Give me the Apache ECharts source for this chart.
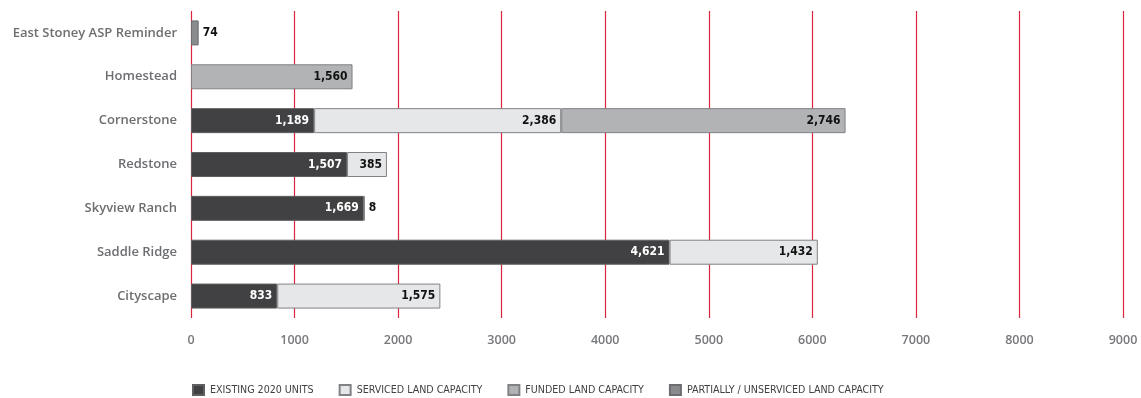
<!DOCTYPE html>
<html>
<head>
<meta charset="utf-8">
<script src="https://cdn.jsdelivr.net/npm/echarts@6/dist/echarts.min.js"></script>
<style>
  html, body { margin: 0; padding: 0; background: #fff; }
  #chart { width: 1141px; height: 398px; }
</style>
</head>
<body>
<div id="chart"></div>
<script>
// Communities, listed bottom-to-top as drawn on the category axis
const categories = ['Cityscape', 'Saddle Ridge', 'Skyview Ranch', 'Redstone', 'Cornerstone', 'Homestead', 'East Stoney ASP Reminder'];

// Units per community for each capacity type (null = none)
const existing2020 = [833, 4621, 1669, 1507, 1189, null, null];
const servicedLand = [1575, 1432, 8, 385, 2386, null, null];
const fundedLand = [null, null, null, null, 2746, 1560, null];
const unservicedLand = [null, null, null, null, null, null, 74];

const xTicks = { min: 0, max: 9000, step: 1000 };

const labelFont = '"DejaVu Sans Condensed", "Liberation Sans Narrow", sans-serif';

function barLabel(color) {
  return {
    show: true,
    position: 'insideRight',
    distance: 5,
    color: color,
    fontFamily: labelFont,
    fontWeight: 'bold',
    fontSize: 12,
    formatter: p => p.value == null ? '' : p.value.toLocaleString('en-US')
  };
}

// Tiny segments get their label outside the bar end
function withOutsideSmall(values) {
  return values.map(v => {
    if (v != null && v < 200) {
      return { value: v, label: { position: 'right', distance: 4, color: '#111' } };
    }
    return v;
  });
}

function series(name, values, fill, border, textColor) {
  return {
    name: name,
    type: 'bar',
    stack: 'units',
    barWidth: 25,
    data: withOutsideSmall(values),
    itemStyle: { color: fill, borderColor: border, borderWidth: 1 },
    label: barLabel(textColor),
    emphasis: { disabled: true }
  };
}

const chart = echarts.init(document.getElementById('chart'), null, { renderer: 'canvas' });
chart.setOption({
  animation: false,
  grid: { left: 191, right: 18, top: 11, bottom: 80, containLabel: false },
  legend: {
    top: 379,
    left: 187,
    icon: 'rect',
    itemWidth: 11,
    itemHeight: 10,
    itemGap: 25,
    textStyle: { color: '#414042', fontSize: 10.6, fontFamily: labelFont, padding: [0, 0, 0, 1] },
    data: ['EXISTING 2020 UNITS', 'SERVICED LAND CAPACITY', 'FUNDED LAND CAPACITY', 'PARTIALLY / UNSERVICED LAND CAPACITY']
  },
  xAxis: {
    type: 'value',
    min: xTicks.min,
    max: xTicks.max,
    interval: xTicks.step,
    axisLine: { show: false },
    axisTick: { show: false },
    axisLabel: { color: '#77787b', fontSize: 12.5, fontWeight: 600, fontFamily: '"Open Sans", sans-serif', margin: 16, formatter: v => String(v) },
    splitLine: { show: true, lineStyle: { color: '#d9263f', width: 1.2 } }
  },
  yAxis: {
    type: 'category',
    data: categories,
    axisLine: { show: false },
    axisTick: { show: false },
    axisLabel: { color: '#6d6e71', fontSize: 13, fontWeight: 600, fontFamily: '"Open Sans", sans-serif', margin: 14 }
  },
  series: [
    series('EXISTING 2020 UNITS', existing2020, '#414042', '#5e5f61', '#ffffff'),
    series('SERVICED LAND CAPACITY', servicedLand, '#e6e7e8', '#808285', '#111111'),
    series('FUNDED LAND CAPACITY', fundedLand, '#b1b3b5', '#808285', '#111111'),
    series('PARTIALLY / UNSERVICED LAND CAPACITY', unservicedLand, '#8a8b8d', '#6d6e71', '#111111')
  ]
});
</script>
</body>
</html>
